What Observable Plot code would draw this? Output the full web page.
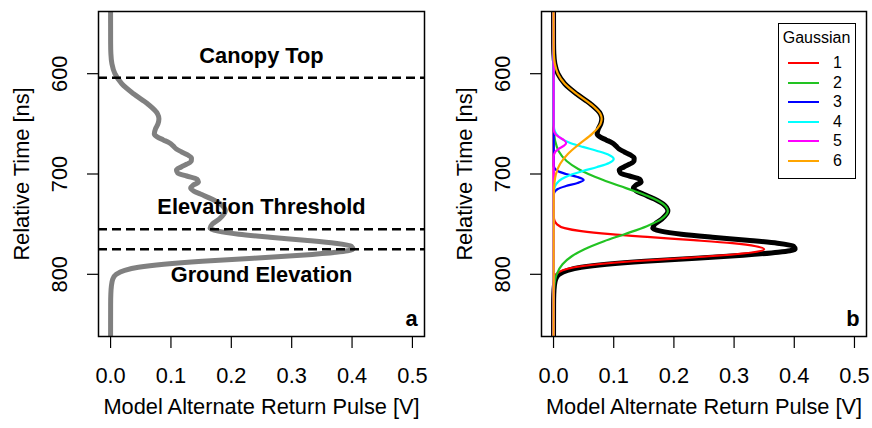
<!DOCTYPE html>
<html><head><meta charset="utf-8">
<script src="https://cdn.jsdelivr.net/npm/d3@7"></script>
<script src="https://cdn.jsdelivr.net/npm/@observablehq/plot@0.6"></script>
<style>
html,body{margin:0;padding:0;background:#fff;}
#wrap{display:flex;width:872px;height:428px;font-family:"Liberation Sans",Arial,Helvetica,sans-serif;}
.panel{position:relative;width:436px;height:428px;}
.panel svg{display:block;}
.ylab{position:absolute;top:173.5px;white-space:nowrap;font-size:21.8px;line-height:1;color:#000;transform:translate(-50%,-50%) rotate(-90deg);}
#legend{position:absolute;left:341.5px;top:22.5px;width:78px;height:156px;border:1px solid #000;box-sizing:border-box;background:#fff;font-size:16px;color:#000;}
#legend .title{position:absolute;left:0;width:100%;top:4px;text-align:center;line-height:20px;}
#legend .row{position:absolute;left:0;width:100%;height:20px;}
#legend .sw{position:absolute;left:9px;width:31px;top:9px;height:0;border-top:2.5px solid;}
#legend .lab{position:absolute;left:52px;width:14px;text-align:center;line-height:20px;top:0;}
</style>
</head><body>
<div id="wrap"><div class="panel" id="pa"></div><div class="panel" id="pb"></div></div>
<script>
// ---- data ----
const xTicks = [0, 0.1, 0.2, 0.3, 0.4, 0.5];
const yTicks = [600, 700, 800];
const xLabel = "Model Alternate Return Pulse [V]";
const yLabel = "Relative Time [ns]";

// total modelled return waveform
const totalT = [530,570,580,590,600,610,620,630,640,645,650,655,660,663,666,669,672,675,678,681,684,687,690,693,696,699,702,705,708,711,714,717,720,725,730,737,745,750,754,757,760,763,766,769,772,775,778,781,784,787,790,793,796,800,805,812,820,830,870];
const totalV = [0,.0001,.0005,.0022,.0072,.0186,.0380,.0612,.0778,.0801,.0785,.0744,.0724,.0772,.0874,.0975,.1036,.1089,.1177,.1276,.1340,.1337,.1270,.1170,.1091,.1111,.1261,.1427,.1456,.1371,.1326,.1379,.1487,.1677,.1821,.19,.1799,.1684,.1648,.1783,.2125,.264,.3217,.3721,.3986,.4014,.3734,.3149,.2367,.1518,.0883,.0461,.0234,.0094,.0035,.0013,.0004,.0001,0];

// Gaussian components
const g1T = [530,739,745,750,754,757,760,763,766,769,772,775,778,781,784,787,790,793,796,800,805,811,870];
const g1V = [0,.0001,.0009,.0054,.0185,.046,.0945,.161,.233,.297,.336,.35,.332,.282,.211,.132,.0734,.035,.0153,.0042,.0006,.0001,0];
const g2T = [530,650,657,667,677,687,695,700,706,712,717,722,727,732,737,745,752,760,767,775,782,790,800,812,827,870];
const g2V = [0,.0003,.0007,.0027,.0083,.0217,.0411,.0579,.0825,.1104,.1343,.1563,.1742,.1859,.19,.179,.155,.118,.084,.0514,.0303,.0149,.0052,.0012,.0001,0];
const g3T = [530,692,697,700,703,706,709,712,715,720,870];
const g3V = [0,.0004,.0068,.0206,.040,.05,.040,.0206,.0068,.0004,0];
const g4T = [530,650,655,660,665,669,673,677,681,685,689,693,697,701,705,710,715,720,870];
const g4V = [0,.0002,.0011,.0044,.0135,.0278,.0487,.0726,.0923,.1,.0923,.0726,.0487,.0278,.0135,.0044,.0011,.0002,0];
const g5T = [530,655,660,663,666,669,672,675,678,683,870];
const g5V = [0,.0002,.0028,.0086,.0168,.021,.0168,.0086,.0028,.0002,0];
const g6T = [530,570,580,590,600,610,620,630,640,645,650,660,670,680,690,700,710,720,870];
const g6V = [0,.0001,.0005,.0022,.0072,.0186,.038,.0612,.0777,.08,.078,.0641,.0431,.0238,.0108,.004,.0012,.0003,0];

const gaussNames = ["1","2","3","4","5","6"];
const gaussColors = ["#ff0000","#22c322","#0000ff","#00ffff","#ff00ff","#ffa500"];

// panel a annotations
const lineTimes = [604, 755, 775];
const annotLabels = ["Canopy Top", "Elevation Threshold", "Ground Elevation"];
const annotTimes = [582, 733, 801];
const annotX = 0.25;

// ---- helpers ----
const rows = (T, V) => T.map((t, i) => ({t, v: V[i]}));
const FONT = '"Liberation Sans", Arial, Helvetica, sans-serif';
const FS = 21.8;
const XDOM = [-0.02, 0.52];
const YDOM = [538, 862];

function common(ml, mr, tag, extra) {
  return Plot.plot({
    width: 436, height: 428,
    marginLeft: ml, marginRight: mr, marginTop: 11, marginBottom: 92,
    style: {fontFamily: FONT, fontSize: FS + "px", color: "#000", background: "#fff", overflow: "visible"},
    x: {domain: XDOM},
    y: {domain: YDOM, reverse: true},
    marks: [
      ...extra,
      Plot.frame({stroke: "#000", strokeWidth: 1.5}),
      Plot.axisX(xTicks, {tickSize: 12, tickPadding: 19, tickFormat: d3.format(".1f"), label: null, fontSize: FS, stroke: "#000", strokeWidth: 1.2}),
      Plot.axisY(yTicks, {tickSize: 11, tickFormat: () => "", label: null, stroke: "#000", strokeWidth: 1.2}),
      Plot.text(yTicks, {x: () => XDOM[0], y: d => d, text: d => String(d), dx: -38, rotate: -90, fontSize: FS, fill: "#000", textAnchor: "middle", lineAnchor: "middle"}),
      Plot.text([xLabel], {frameAnchor: "bottom", dy: 77, fontSize: FS, fill: "#000", textAnchor: "middle"}),
      Plot.text([tag], {frameAnchor: "bottom-right", dx: -7, dy: -11, fontSize: FS, fontWeight: "bold", fill: "#000", textAnchor: "end"})
    ]
  });
}

function addYLabel(panel, x) {
  const d = document.createElement("div");
  d.className = "ylab"; d.style.left = x + "px"; d.textContent = yLabel;
  panel.appendChild(d);
}

const total = rows(totalT, totalV);

const pa = document.getElementById("pa");
const chartA = common(98, 12, "a", [
  Plot.line(total, {x: "v", y: "t", stroke: "#808080", strokeWidth: 5, curve: "monotone-y", clip: true}),
  Plot.ruleY(lineTimes, {stroke: "#000", strokeWidth: 2.5, strokeDasharray: "9,5"}),
  Plot.text(annotLabels, {x: () => annotX, y: (d, i) => annotTimes[i], text: d => d, fontSize: FS, fontWeight: "bold", fill: "#000"})
]);
pa.appendChild(chartA);
addYLabel(pa, 22);

const comps = [[g1T,g1V],[g2T,g2V],[g3T,g3V],[g4T,g4V],[g5T,g5V],[g6T,g6V]];
const chartB = common(105, 6, "b", [
  Plot.line(total, {x: "v", y: "t", stroke: "#000", strokeWidth: 5, curve: "monotone-y", clip: true}),
  ...comps.map(([T, V], i) => Plot.line(rows(T, V), {x: "v", y: "t", stroke: gaussColors[i], strokeWidth: 2.2, curve: "monotone-y", clip: true}))
]);
const pb = document.getElementById("pb");
pb.appendChild(chartB);
addYLabel(pb, 29);

// legend
const lg = document.createElement("div");
lg.id = "legend";
const ttl = document.createElement("div");
ttl.className = "title"; ttl.textContent = "Gaussian";
lg.appendChild(ttl);
const rowTops = [29.5, 49, 68.5, 88, 107.5, 127];
gaussNames.forEach((n, i) => {
  const r = document.createElement("div");
  r.className = "row"; r.style.top = rowTops[i] + "px";
  const sw = document.createElement("div"); sw.className = "sw"; sw.style.borderTopColor = gaussColors[i];
  const lb = document.createElement("div"); lb.className = "lab"; lb.textContent = n;
  r.appendChild(sw); r.appendChild(lb); lg.appendChild(r);
});
pb.appendChild(lg);
</script>
</body></html>
